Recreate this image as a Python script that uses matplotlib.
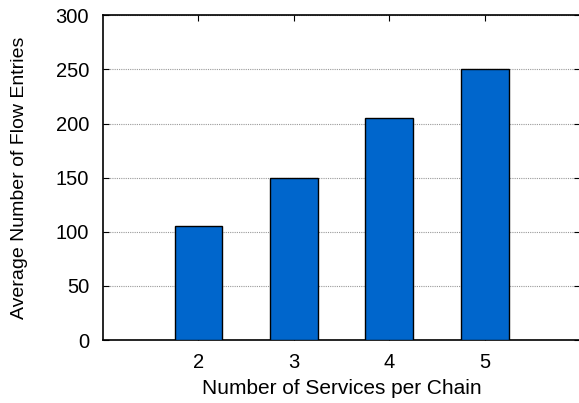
import matplotlib.pyplot as plt

plt.rcParams['font.family'] = ['Liberation Sans', 'DejaVu Sans']

services = [2, 3, 4, 5]
flow_entries = [105, 150, 205, 250]

fig = plt.figure(figsize=(5.79, 4.03), dpi=100)
ax = fig.add_axes([0.178, 0.156, 0.824, 0.806])

ax.bar(services, flow_entries, width=0.5, color='#0066cc', edgecolor='black', linewidth=1, zorder=3)

ax.set_xlim(1, 6)
ax.set_ylim(0, 300)
ax.set_xticks(services)
ax.set_yticks(range(0, 301, 50))
ax.set_axisbelow(True)
ax.yaxis.grid(True, linestyle=(0, (1, 1)), color='#999999', linewidth=0.8)
ax.tick_params(direction='in', top=True, right=True, labelsize=14.5, length=4, pad=10)
ax.tick_params(axis='x', pad=9)
for s in ax.spines.values():
    s.set_linewidth(1.2)

ax.set_xlabel('Number of Services per Chain', fontsize=15, labelpad=5)
ax.set_ylabel('Average Number of Flow Entries', fontsize=14, labelpad=20)

fig.savefig('out.png', dpi=100)
